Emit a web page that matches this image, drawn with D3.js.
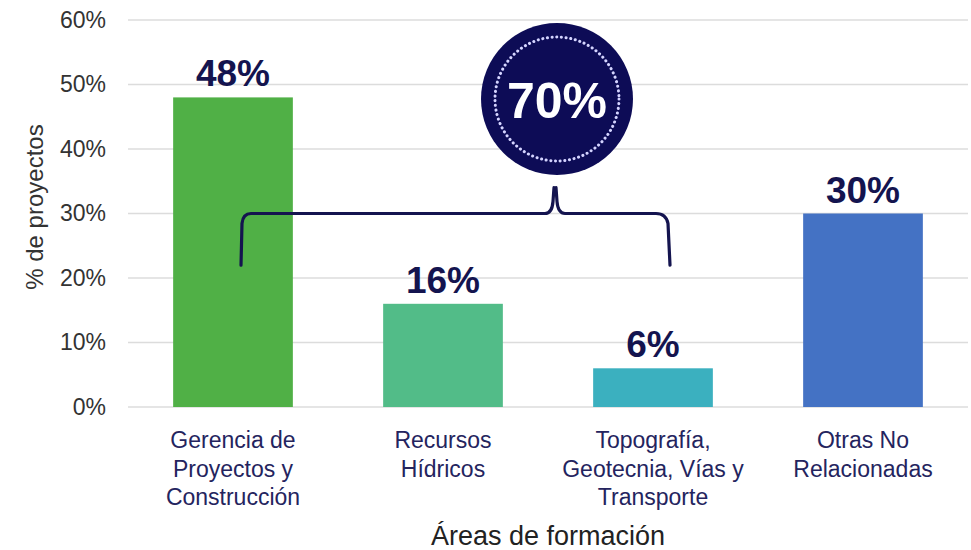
<!DOCTYPE html>
<html>
<head>
<meta charset="utf-8">
<script src="https://cdnjs.cloudflare.com/ajax/libs/d3/7.8.5/d3.min.js"></script>
<style>
  body { margin: 0; background: #fff; }
  text { font-family: "Liberation Sans", Arial, sans-serif; }
</style>
</head>
<body>
<script>
var w = 971
var h = 550

// data
var categories = [
  ["Gerencia de", "Proyectos y", "Construcción"],
  ["Recursos", "Hídricos"],
  ["Topografía,", "Geotecnia, Vías y", "Transporte"],
  ["Otras No", "Relacionadas"]
]
var values = [48, 16, 6, 30]
var colors = ["#50b046", "#52bc88", "#3bb0bf", "#4472c4"]
var yTicks = [0, 10, 20, 30, 40, 50, 60]
var groupTotal = 70 // first three areas together

var navy = "#14144f"

var svg = d3.select("body")
            .append("svg")
            .attr("width", w)
            .attr("height", h)

var x = d3.scaleBand()
          .domain(d3.range(categories.length))
          .range([128, 968])
          .paddingInner(0.43)
          .paddingOuter(0.215)

var y = d3.scaleLinear()
          .domain([0, 60])
          .range([407, 20])

// gridlines
svg.selectAll("line.grid")
  .data(yTicks)
  .enter().append("line")
  .attr("class", "grid")
  .attr("x1", 128)
  .attr("x2", 968)
  .attr("y1", function(d) { return y(d) })
  .attr("y2", function(d) { return y(d) })
  .attr("stroke", "#dcdcdc")
  .attr("stroke-width", 1.5)

// y axis labels
var yAxis = svg.append("g")
  .attr("transform", "translate(106,0)")
  .call(d3.axisLeft(y).tickValues(yTicks).tickSize(0).tickPadding(0)
          .tickFormat(function(d) { return d + "%" }))
yAxis.select(".domain").remove()
yAxis.selectAll("text")
  .attr("font-size", "23px")
  .attr("fill", "#333")
  .attr("font-family", "Liberation Sans, Arial, sans-serif")

svg.append("text")
  .text("% de proyectos")
  .attr("transform", "translate(43," + y(31) + ") rotate(-90)")
  .attr("text-anchor", "middle")
  .attr("font-size", "24px")
  .attr("fill", "#333")

// bars
svg.selectAll("rect.bar")
  .data(values)
  .enter().append("rect")
  .attr("class", "bar")
  .attr("x", function(d, i) { return x(i) })
  .attr("y", function(d) { return y(d) })
  .attr("width", x.bandwidth())
  .attr("height", function(d) { return y(0) - y(d) })
  .attr("fill", function(d, i) { return colors[i] })

// value labels
svg.selectAll("text.val")
  .data(values)
  .enter().append("text")
  .attr("class", "val")
  .text(function(d) { return d + "%" })
  .attr("x", function(d, i) { return x(i) + x.bandwidth() / 2 })
  .attr("y", function(d) { return y(d) - 11 })
  .attr("text-anchor", "middle")
  .attr("font-size", "37px")
  .attr("font-weight", "bold")
  .attr("fill", navy)

// category labels
var catG = svg.selectAll("g.cat")
  .data(categories)
  .enter().append("text")
  .attr("class", "cat")
  .attr("text-anchor", "middle")
  .attr("font-size", "23px")
  .attr("fill", "#24245e")
catG.selectAll("tspan")
  .data(function(d, i) { return d.map(function(s) { return {s: s, i: i} }) })
  .enter().append("tspan")
  .text(function(d) { return d.s })
  .attr("x", function(d) { return x(d.i) + x.bandwidth() / 2 })
  .attr("y", function(d, j) { return 448 + j * 28.5 })

svg.append("text")
  .text("Áreas de formación")
  .attr("x", (128 + 968) / 2)
  .attr("y", 545)
  .attr("text-anchor", "middle")
  .attr("font-size", "27px")
  .attr("fill", "#222")

// bracket grouping the first three areas
var bL = x(0) + x.bandwidth() / 2 + 8
var bR = x(2) + x.bandwidth() / 2 + 17
var bM = 555
var bY = y(30)
var bBottom = y(22)
var r = 10
var bracket = d3.path()
bracket.moveTo(bL, bBottom)
bracket.lineTo(bL + 1, bY + r)
bracket.quadraticCurveTo(bL + 2, bY, bL + r, bY)
bracket.lineTo(bM - 10, bY)
bracket.quadraticCurveTo(bM - 3, bY, bM - 2, bY - 12)
bracket.lineTo(bM - 1, bY - 26)
bracket.moveTo(bM + 1, bY - 26)
bracket.lineTo(bM + 2, bY - 12)
bracket.quadraticCurveTo(bM + 3, bY, bM + 10, bY)
bracket.lineTo(bR - r - 4, bY)
bracket.quadraticCurveTo(bR - 4, bY, bR - 2, bY + r)
bracket.lineTo(bR, bBottom)

svg.append("path")
  .attr("d", bracket.toString())
  .attr("fill", "none")
  .attr("stroke", navy)
  .attr("stroke-width", 3.2)
  .attr("stroke-linecap", "round")

// circle badge
var cx = 557, cy = 99
svg.append("circle")
  .attr("cx", cx)
  .attr("cy", cy)
  .attr("r", 76)
  .attr("fill", "#0d0c56")

svg.append("circle")
  .attr("cx", cx)
  .attr("cy", cy)
  .attr("r", 62)
  .attr("fill", "none")
  .attr("stroke", "#d4d4ff")
  .attr("stroke-width", 3)
  .attr("stroke-dasharray", "0.1 4.6")
  .attr("stroke-linecap", "round")

svg.append("text")
  .text(groupTotal + "%")
  .attr("x", cx)
  .attr("y", cy + 19)
  .attr("text-anchor", "middle")
  .attr("font-size", "50px")
  .attr("font-weight", "bold")
  .attr("fill", "#fff")
</script>
</body>
</html>
